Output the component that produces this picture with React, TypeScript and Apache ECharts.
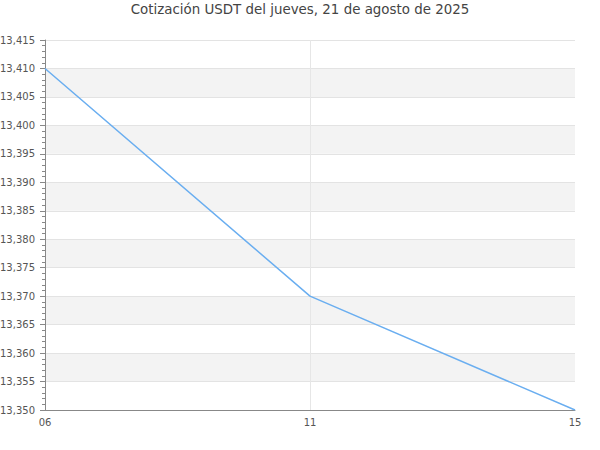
import React, { useEffect, useRef } from "react";
import * as echarts from "echarts";

const titleText = "Cotización USDT del jueves, 21 de agosto de 2025";
const hours = ["06", "11", "15"];
const prices = [13410, 13370, 13350];

export default function App() {
  const ref = useRef<HTMLDivElement>(null);
  useEffect(() => {
    const chart = echarts.init(ref.current!, null, { renderer: "svg" });
    chart.setOption({
      animation: false,
      textStyle: { fontFamily: "DejaVu Sans" },
      title: {
        text: titleText,
        left: "center",
        top: 0,
        padding: [3, 5, 5, 5],
        textStyle: { fontSize: 13.4, fontWeight: "normal", color: "#444", fontFamily: "DejaVu Sans" },
      },
      grid: { left: 45, right: 25, top: 40, bottom: 40, containLabel: false, outerBoundsMode: "none" },
      xAxis: {
        type: "category",
        data: hours,
        boundaryGap: false,
        axisLine: { lineStyle: { color: "#888" } },
        axisTick: { show: false },
        axisLabel: { color: "#555", fontSize: 10, margin: 7, fontFamily: "DejaVu Sans" },
        splitLine: {
          show: true,
          interval: (i: number) => i === 1,
          lineStyle: { color: "#e6e6e6" },
        },
      },
      yAxis: {
        type: "value",
        min: 13350,
        max: 13415,
        interval: 5,
        axisLine: { show: true, lineStyle: { color: "#888" } },
        axisTick: { show: true, length: 5, lineStyle: { color: "#888" } },
        minorTick: { show: true, splitNumber: 5, length: 3, lineStyle: { color: "#888" } },
        axisLabel: {
          color: "#555",
          fontSize: 10,
          margin: 10,
          fontFamily: "DejaVu Sans",
          formatter: (v: number) => v.toLocaleString("en-US"),
        },
        splitLine: { show: true, lineStyle: { color: "#e3e3e3" } },
        splitArea: { show: true, areaStyle: { color: ["#ffffff", "#f3f3f3"] } },
      },
      series: [
        {
          type: "line",
          data: prices,
          showSymbol: false,
          symbol: "none",
          lineStyle: { color: "#6aaef0", width: 1.5 },
        },
      ],
    });
    return () => chart.dispose();
  }, []);
  return <div ref={ref} style={{ width: 600, height: 450, position: "absolute", left: 0, top: 0 }} />;
}
